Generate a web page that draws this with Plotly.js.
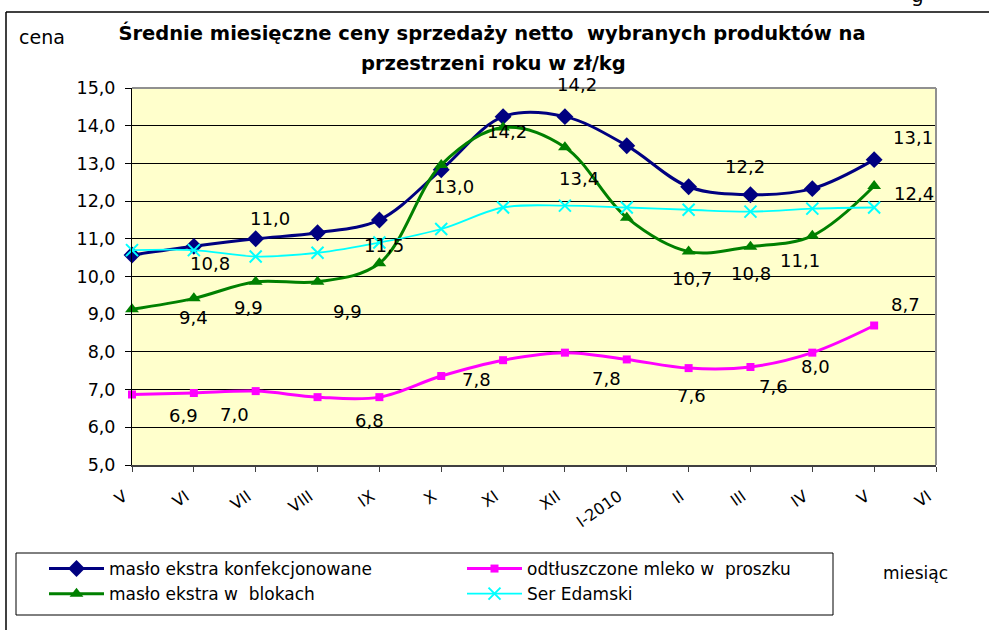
<!DOCTYPE html>
<html><head><meta charset="utf-8">
<script src="https://cdn.plot.ly/plotly-3.0.1.min.js"></script>
<style>html,body{margin:0;padding:0;background:#fff}#chart{width:989px;height:630px}</style>
</head><body><div id="chart"></div>
<script>
// ---- data ----
const months = ['V','VI','VII','VIII','IX','X','XI','XII','I-2010','II','III','IV','V','VI'];
const masloKonf = [10.57,10.8,11.0,11.16,11.5,12.83,14.24,14.24,13.47,12.38,12.17,12.33,13.1];
const mleko     = [6.87,6.91,6.96,6.8,6.8,7.36,7.78,7.98,7.8,7.57,7.6,7.98,8.7];
const masloBlok = [9.13,9.42,9.86,9.86,10.35,12.96,13.95,13.43,11.56,10.66,10.79,11.08,12.4];
const ser       = [10.7,10.7,10.53,10.63,10.9,11.26,11.83,11.88,11.83,11.77,11.72,11.8,11.83];
const seriesNames = ['masło ekstra konfekcjonowane','odtłuszczone mleko w  proszku','masło ekstra w  blokach','Ser Edamski'];

// which points carry a data label
const masloKonfLabelIdx = [1,2,4,6,7,10,12];
const masloBlokLabelIdx = [1,2,3,5,7,9,10,11,12];
const mlekoLabelIdx     = [1,2,4,6,8,9,10,11,12];
// label offsets in px (dx right, dy down) - styling only
const masloKonfOff = [[16,17],[14,-20],[5,26],[4,15],[12,-32],[-5,-28],[39,-22]];
const masloBlokOff = [[0,19],[-7,26],[30,30],[13,22],[14,31],[3,27],[1,27],[-12,25],[40,7]];
const mlekoOff     = [[-10,23],[-21,23],[-10,23],[-27,19],[-20,19],[3,27],[23,20],[3,14],[31,-21]];

const FONT = 'DejaVu Sans, Arial, sans-serif';
const idx = arr => arr.map((_, i) => i);
const fmt = v => v.toFixed(1).replace('.', ',');

function tr(y, name, color, width, symbol, msize, mline) {
  return {
    x: idx(y), y: y, name: name, type: 'scatter', mode: 'lines+markers',
    line: {color: color, width: width, shape: 'spline', smoothing: 1},
    marker: {symbol: symbol, size: msize, color: color, line: mline || {width: 0}},
    cliponaxis: false, hoverinfo: 'skip'
  };
}
const traces = [
  tr(masloKonf, seriesNames[0], '#000080', 3, 'diamond', 13),
  tr(mleko, seriesNames[1], '#FF00FF', 3, 'square', 8),
  tr(masloBlok, seriesNames[2], '#008000', 3, 'triangle-up', 12),
  tr(ser, seriesNames[3], '#00FFFF', 1.8, 'x-thin', 12, {color: '#00FFFF', width: 2})
];

const annotations = [];
function addLabels(vals, ids, offs) {
  ids.forEach((i, k) => {
    annotations.push({
      xref: 'x', yref: 'y', x: i, y: vals[i], text: fmt(vals[i]), showarrow: false,
      xshift: offs[k][0], yshift: -offs[k][1],
      font: {family: FONT, size: 18, color: '#000'}
    });
  });
}
addLabels(masloKonf, masloKonfLabelIdx, masloKonfOff);
addLabels(masloBlok, masloBlokLabelIdx, masloBlokOff);
addLabels(mleko, mlekoLabelIdx, mlekoOff);

// pixel helpers for paper coords (plot area 132..936 x 88..465)
const px = v => (v - 132) / 804;
const py = v => (465 - v) / 377;

annotations.push(
  {xref: 'paper', yref: 'paper', x: px(493), y: py(64), text: '<b>przestrzeni roku w zł/kg</b>',
   showarrow: false, xanchor: 'center', yanchor: 'middle', font: {family: FONT, size: 19.5, color: '#000'}},
  {xref: 'paper', yref: 'paper', x: px(42), y: py(37), text: 'cena', showarrow: false,
   xanchor: 'center', yanchor: 'middle', font: {family: FONT, size: 19, color: '#000'}},
  {xref: 'paper', yref: 'paper', x: px(915), y: py(573), text: 'miesiąc', showarrow: false,
   xanchor: 'center', yanchor: 'middle', font: {family: FONT, size: 17, color: '#000'}},
  {xref: 'paper', yref: 'paper', x: px(917), y: py(9), text: 'g', showarrow: false,
   xanchor: 'center', yanchor: 'bottom', font: {family: FONT, size: 20, color: '#000'}}
);

const layout = {
  width: 989, height: 630,
  margin: {l: 132, r: 53, t: 88, b: 165, pad: 0},
  paper_bgcolor: '#ffffff', plot_bgcolor: '#FFFFCC',
  separators: ', ',
  showlegend: true,
  title: {text: '<b>Średnie miesięczne ceny sprzedaży netto  wybranych produktów na</b>',
          x: 492/989, xanchor: 'center', y: 1 - 33/630, yanchor: 'middle',
          font: {family: FONT, size: 19.5, color: '#000'}},
  xaxis: {
    range: [0, 13], tickvals: idx(months), ticktext: months, tickangle: -35,
    ticks: 'outside', ticklen: 5, tickcolor: '#404040', tickwidth: 1,
    showline: true, linecolor: '#404040', linewidth: 2,
    showgrid: false, zeroline: false,
    tickfont: {family: FONT, size: 16, color: '#000'},
    ticklabelstandoff: 9, ticklabelshift: -8, fixedrange: true
  },
  yaxis: {
    range: [5, 15], dtick: 1, tick0: 5, tickformat: '.1f',
    ticks: 'outside', ticklen: 6, tickcolor: '#000',
    showline: true, linecolor: '#000', linewidth: 1,
    showgrid: true, gridcolor: '#000', gridwidth: 1, zeroline: false,
    tickfont: {family: FONT, size: 17.5, color: '#000'},
    ticklabelstandoff: 6, fixedrange: true
  },
  legend: {
    orientation: 'h', x: px(44), y: py(551), xanchor: 'left', yanchor: 'top',
    borderwidth: 0, bgcolor: 'rgba(0,0,0,0)',
    font: {family: FONT, size: 17, color: '#000'},
    entrywidth: 348, itemwidth: 55, traceorder: 'normal'
  },
  shapes: [
    {type: 'line', xref: 'paper', yref: 'paper', x0: 0, x1: 1, y0: 1, y1: 1, line: {color: '#909090', width: 2}},
    {type: 'line', xref: 'paper', yref: 'paper', x0: 1, x1: 1, y0: 0, y1: 1, line: {color: '#909090', width: 2}},
    {type: 'line', xref: 'paper', yref: 'paper', x0: px(6), x1: px(989), y0: py(12), y1: py(12), line: {color: '#000', width: 1.5}},
    {type: 'line', xref: 'paper', yref: 'paper', x0: px(6), x1: px(6), y0: py(12), y1: py(630), line: {color: '#000', width: 1.5}},
    {type: 'rect', xref: 'paper', yref: 'paper', x0: px(16), x1: px(833), y0: py(553), y1: py(615), line: {color: '#000', width: 1}, fillcolor: 'rgba(0,0,0,0)'}
  ],
  annotations: annotations
};

Plotly.newPlot('chart', traces, layout, {displayModeBar: false, staticPlot: true});
</script>
</body></html>
